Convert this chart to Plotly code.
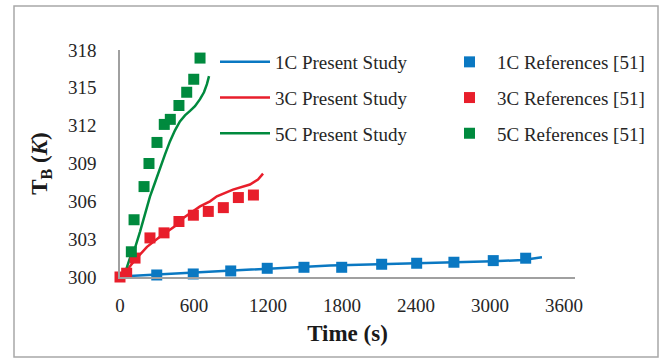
import plotly.graph_objects as go

# ---- data ----
t_1c_line = [0, 81, 300, 592, 892, 1192, 1484, 1703, 1784, 2125, 2409, 2701, 3025, 3268, 3422]
T_1c_line = [300.0, 300.08, 300.2, 300.36, 300.53, 300.69, 300.8, 300.92, 300.94, 301.02, 301.08, 301.16, 301.24, 301.35, 301.57]

t_3c_line = [0, 24, 122, 219, 324, 381, 462, 511, 592, 649, 730, 786, 916, 1054, 1119, 1160]
T_3c_line = [300.0, 300.16, 301.35, 302.39, 303.19, 303.61, 304.14, 304.67, 305.18, 305.6, 306.0, 306.4, 306.93, 307.33, 307.73, 308.2]

t_5c_line = [0, 41, 81, 122, 162, 203, 243, 284, 324, 365, 405, 446, 486, 527, 568, 608, 649, 681, 705, 722]
T_5c_line = [300.0, 300.32, 301.51, 302.31, 303.58, 304.94, 306.37, 307.49, 308.68, 309.72, 310.75, 311.63, 312.34, 312.82, 313.17, 313.54, 314.1, 314.65, 315.29, 315.93]

t_1c_ref = [298, 594, 898, 1194, 1492, 1798, 2122, 2406, 2708, 3027, 3290]
T_1c_ref = [300.16, 300.24, 300.48, 300.69, 300.77, 300.77, 301.01, 301.09, 301.17, 301.3, 301.49]

t_3c_ref = [0, 54, 122, 243, 357, 478, 595, 716, 838, 960, 1082]
T_3c_ref = [300.0, 300.3, 301.5, 303.1, 303.5, 304.4, 304.9, 305.2, 305.5, 306.3, 306.5]

t_5c_ref = [92, 114, 195, 235, 300, 359, 408, 478, 541, 598, 649]
T_5c_ref = [302.0, 304.54, 307.17, 309.0, 310.67, 312.1, 312.5, 313.6, 314.65, 315.68, 317.36]

x_ticks = [0, 600, 1200, 1800, 2400, 3000, 3600]
y_ticks = [300, 303, 306, 309, 312, 315, 318]

BLUE = "#0a78c2"
RED = "#e81e2b"
GREEN = "#008a3e"
FONT = "Liberation Serif"

fig = go.Figure()

lines = [
    ("1C Present Study", t_1c_line, T_1c_line, BLUE),
    ("3C Present Study", t_3c_line, T_3c_line, RED),
    ("5C Present Study", t_5c_line, T_5c_line, GREEN),
]
refs = [
    ("1C References [51]", t_1c_ref, T_1c_ref, BLUE),
    ("3C References [51]", t_3c_ref, T_3c_ref, RED),
    ("5C References [51]", t_5c_ref, T_5c_ref, GREEN),
]

for i, (name, x, y, c) in enumerate(lines):
    fig.add_trace(go.Scatter(x=x, y=y, mode="lines", name=name,
                             line=dict(color=c, width=2.5),
                             legend="legend", legendgroup="l%d" % i, cliponaxis=False))
for i, (name, x, y, c) in enumerate(refs):
    fig.add_trace(go.Scatter(x=x, y=y, mode="markers", name=name,
                             marker=dict(color=c, size=11, symbol="square"),
                             legend="legend2", legendgroup="r%d" % i, cliponaxis=False))

L, R, T, B = 120, 89, 50, 82
pw = 664 - L - R
ph = 359 - T - B

fig.update_layout(
    width=664, height=359,
    margin=dict(l=L, r=R, t=T, b=B),
    paper_bgcolor="white", plot_bgcolor="white",
    font=dict(family=FONT, size=19, color="#262626"),
    showlegend=True,
    legend=dict(x=(215 - L) / pw, y=1.0 - (43 - T) / ph, xanchor="left", yanchor="top",
                bgcolor="rgba(0,0,0,0)", tracegroupgap=8,
                font=dict(family=FONT, size=19, color="#262626"), itemwidth=50),
    legend2=dict(x=(442 - L) / pw, y=1.0 - (43 - T) / ph, xanchor="left", yanchor="top",
                 bgcolor="rgba(0,0,0,0)", tracegroupgap=8,
                 font=dict(family=FONT, size=19, color="#262626"), itemwidth=45),
    xaxis=dict(range=[0, 3690], tickvals=x_ticks, ticktext=[str(v) for v in x_ticks],
               showgrid=False, zeroline=False, showline=True, linecolor="#a0a0a0", linewidth=1.5,
               ticks="", ticklabelstandoff=10,
               tickfont=dict(family=FONT, size=19, color="#262626"),
               title=dict(text="<b>Time (s)</b>", font=dict(family=FONT, size=23, color="#1a1a1a"),
                          standoff=10)),
    yaxis=dict(range=[300, 318], tickvals=y_ticks, ticktext=[str(v) for v in y_ticks],
               showgrid=False, zeroline=False, showline=True, linecolor="#a0a0a0", linewidth=1.5,
               ticks="", ticklabelstandoff=18,
               tickfont=dict(family=FONT, size=19, color="#262626"),
               title=dict(text="<b>T<sub>B</sub> (<i>K</i>)</b>",
                          font=dict(family=FONT, size=23, color="#1a1a1a"), standoff=14)),
    shapes=[dict(type="rect", xref="paper", yref="paper",
                 x0=(14 - L) / pw, x1=(658 - L) / pw,
                 y0=(277 - 357) / ph, y1=(277 - 6) / ph,
                 line=dict(color="#a8a8a8", width=1.5), fillcolor="rgba(0,0,0,0)", layer="below")],
)

fig.write_html("out.html")
